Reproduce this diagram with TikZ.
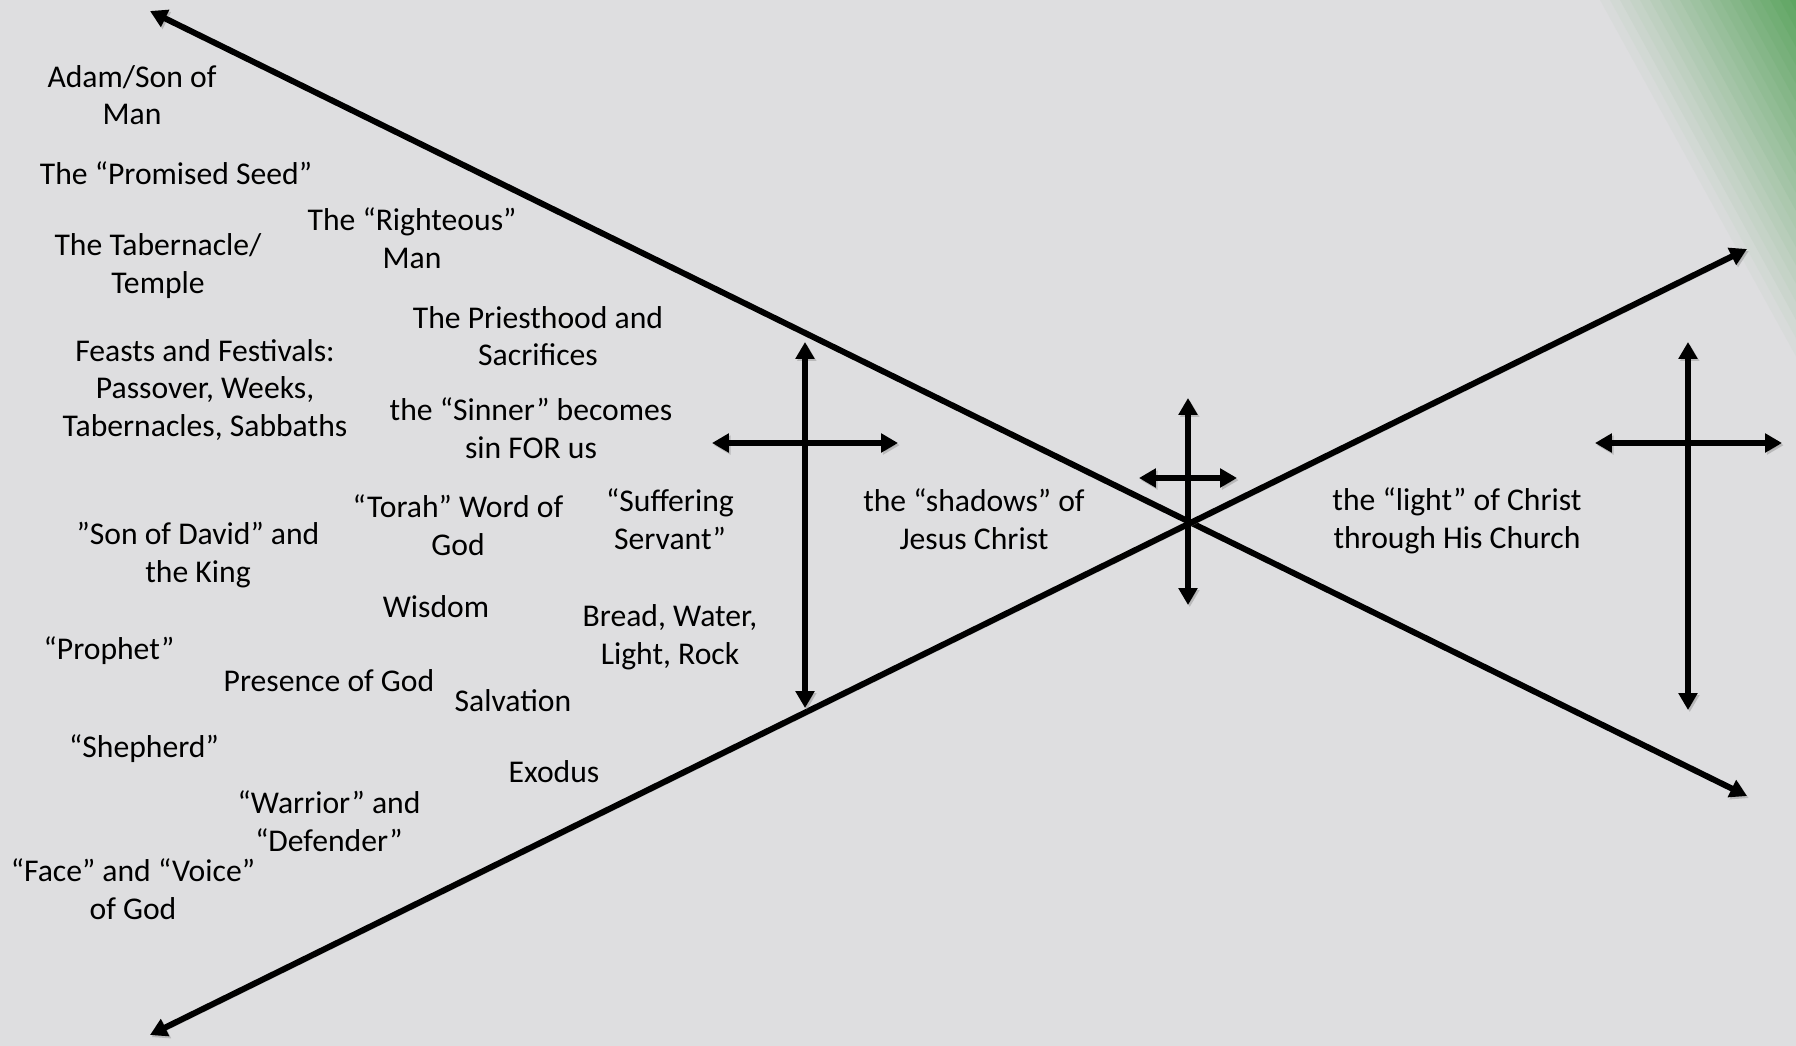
\documentclass[tikz,border=0pt]{standalone}
\usepackage{fontspec}
\setmainfont{Carlito}
\usepackage{tikz}
\usetikzlibrary{arrows.meta}
\definecolor{paper}{HTML}{DEDEE0}
\definecolor{leaf}{HTML}{4A9C4E}
\definecolor{ink}{HTML}{000000}
\tikzset{
  lbl/.style ={font=\fontsize{9.0}{10.7}\selectfont, align=center, inner sep=0pt, text=ink},
  beam/.style={draw=ink, line width=1.7pt,
               {Triangle[length=4.8pt,width=5.2pt]}-{Triangle[length=4.8pt,width=5.2pt]},
               preaction={draw=black!45, opacity=0.45,
                          transform canvas={xshift=0.5pt,yshift=-0.6pt}}},
}

\begin{document}
\begin{tikzpicture}[x=0.01cm,y=-0.01cm]
  \useasboundingbox (0,0) rectangle (1796,1046);
  \fill[paper] (0,0) rectangle (1796,1046);

  % ---------------------------------------------------------------- corner
  % green wash in the top right, laid as overlapping bands
  \begin{scope}
    \clip (0,0) rectangle (1796,1046);
    \foreach \i in {0,...,23}{
      \pgfmathtruncatemacro\p{100*\i/23}
      \fill[leaf!\p!paper] (1590+10*\i,0) -- (2200,0) -- (2200,600) -- (1920+10*\i,600) -- cycle;
    }
  \end{scope}

  % ---------------------------------------------------------------- the X
  \coordinate (tl)  at (150,11);
  \coordinate (br)  at (1747,796);
  \coordinate (bl)  at (150,1035);
  \coordinate (tr)  at (1747,249);
  \draw[beam] (tl) -- (br);
  \draw[beam] (bl) -- (tr);

  % ---------------------------------------------------------------- crosses
  % name/x/top/bottom/arm y/arm left/arm right
  \foreach \n/\x/\t/\b/\a/\l/\r in {past/805/342/708/443/712/898,
                                    hub/1188/398/605/478/1139/1237,
                                    church/1688/342/710/443/1595/1782}{
    \coordinate (\n-t) at (\x,\t);
    \coordinate (\n-b) at (\x,\b);
    \coordinate (\n-l) at (\l,\a);
    \coordinate (\n-r) at (\r,\a);
    \draw[beam] (\n-t) -- (\n-b);
    \draw[beam] (\n-l) -- (\n-r);
  }

  % ---------------------------------------------------------------- shadows
  \node[lbl] (adam)      at (132,95)  {Adam/Son of\\Man};
  \node[lbl] (seed)      at (176,173) {The “Promised Seed”};
  \node[lbl] (tab)       at (158,266) {The Tabernacle/\\Temple};
  \node[lbl] (righteous) at (412,238) {The “Righteous”\\Man};
  \node[lbl] (priest)    at (538,336) {The Priesthood and\\Sacrifices};
  \node[lbl] (feasts)    at (205,390) {Feasts and Festivals:\\Passover, Weeks,\\Tabernacles, Sabbaths};
  \node[lbl] (sinner)    at (531,428) {the “Sinner” becomes\\sin FOR us};
  \node[lbl] (torah)     at (458,525) {“Torah” Word of\\God};
  \node[lbl] (suffer)    at (670,519) {“Suffering\\Servant”};
  \node[lbl] (david)     at (198,555) {”Son of David” and\\the King};
  \node[lbl] (wisdom)    at (436,607) {Wisdom};
  \node[lbl] (bread)     at (670,637) {Bread, Water,\\Light, Rock};
  \node[lbl] (prophet)   at (109,651) {“Prophet”};
  \node[lbl] (presence)  at (329,681) {Presence of God};
  \node[lbl] (salv)      at (513,701) {Salvation};
  \node[lbl] (shep)      at (144,749) {“Shepherd”};
  \node[lbl] (exodus)    at (554,772) {Exodus};
  \node[lbl] (warrior)   at (329,821) {“Warrior” and\\“Defender”};
  \node[lbl] (face)      at (133,889) {“Face” and “Voice”\\of God};

  % ---------------------------------------------------------------- sides
  \node[lbl] (shadows)   at (974,519)  {the “shadows” of\\Jesus Christ};
  \node[lbl] (light)     at (1457,521) {the “light” of Christ\\through His Church};
\end{tikzpicture}
\end{document}
